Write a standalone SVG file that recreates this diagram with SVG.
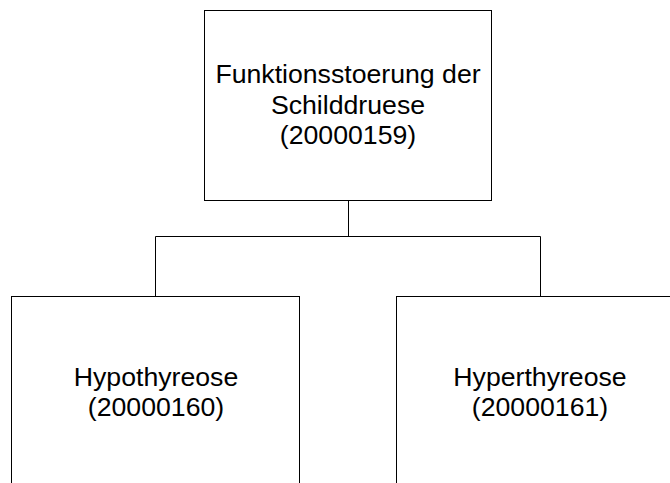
<svg xmlns="http://www.w3.org/2000/svg" width="670" height="483" viewBox="0 0 670 483">
<style>
.box{fill:#fff;stroke:#000;stroke-width:1}
.lbl{font-family:"Liberation Sans",Arial,sans-serif;font-size:26.67px;fill:#000;text-anchor:middle}
.conn{fill:none;stroke:#000;stroke-width:1}
</style>
<rect width="670" height="483" fill="#fff"/>
<g id="connectors">
<path class="conn" d="M348.5,201 V236.5 M155.5,297 V236.5 H540.5 V297"/>
</g>
<g id="n20000159">
<rect class="box" x="204.5" y="10.5" width="287" height="190"/>
<text class="lbl" x="348" y="83.2">Funktionsstoerung der</text>
<text class="lbl" x="348" y="113.6">Schilddruese</text>
<text class="lbl" x="348" y="144">(20000159)</text>
</g>
<g id="n20000160">
<rect class="box" x="11.5" y="296.5" width="288" height="200"/>
<text class="lbl" x="156" y="386">Hypothyreose</text>
<text class="lbl" x="156" y="416.4">(20000160)</text>
</g>
<g id="n20000161">
<rect class="box" x="396.5" y="296.5" width="288" height="200"/>
<text class="lbl" x="540" y="386">Hyperthyreose</text>
<text class="lbl" x="540" y="416.4">(20000161)</text>
</g>
</svg>
